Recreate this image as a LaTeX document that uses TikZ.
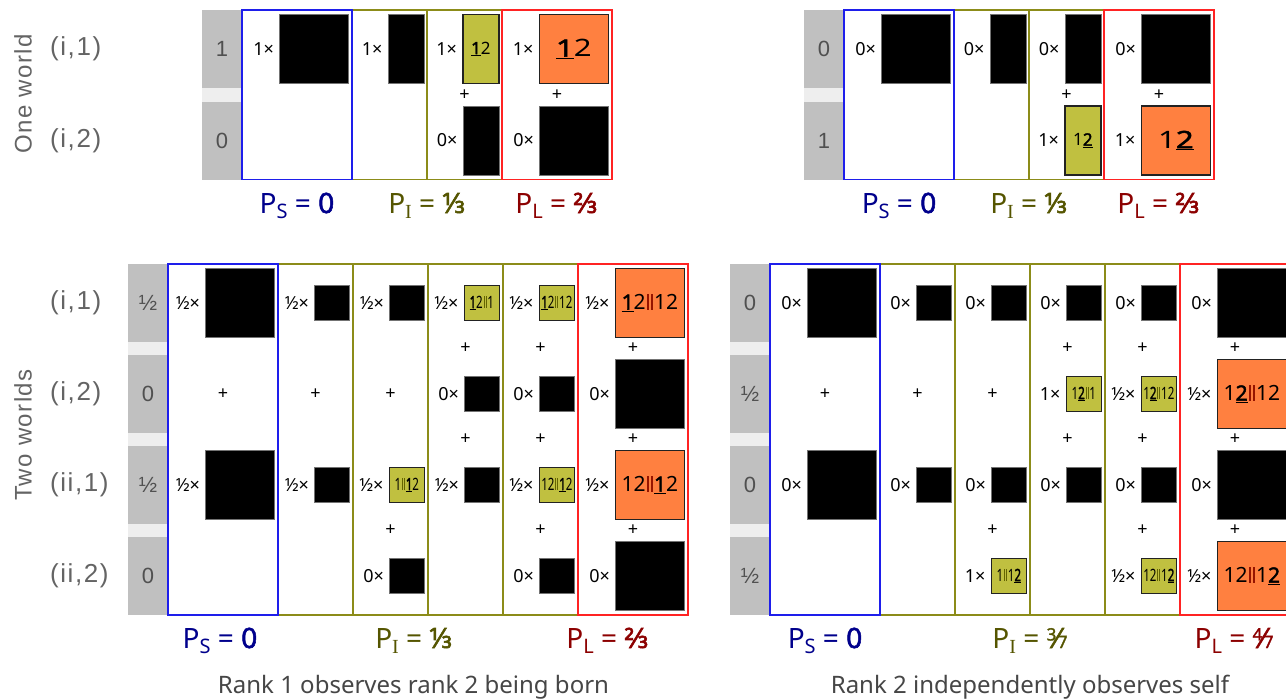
\documentclass[tikz,border=0pt]{standalone}
\usepackage{fontspec}
\usepackage{graphicx}
\newfontfamily\ns{Noto Sans}[AutoFakeBold=2]
\newfontfamily\ls{Liberation Sans}[LetterSpace=6]
\newfontfamily\lsn{Liberation Sans}
\newfontfamily\lsr{Liberation Serif}
\definecolor{gcell}{RGB}{192,192,192}
\definecolor{gstrip}{RGB}{238,238,238}
\definecolor{blfr}{RGB}{30,30,235}
\definecolor{olfr}{RGB}{140,140,25}
\definecolor{rdfr}{RGB}{255,35,35}
\definecolor{olfill}{RGB}{192,192,64}
\definecolor{orfill}{RGB}{255,128,64}
\definecolor{boxedge}{RGB}{34,34,34}
\definecolor{psc}{RGB}{0,0,140}
\definecolor{pIcol}{RGB}{85,85,0}
\definecolor{plc}{RGB}{140,0,0}
\definecolor{lblc}{RGB}{100,100,100}
\definecolor{numc}{RGB}{80,80,80}
\definecolor{capc}{RGB}{70,70,70}
\definecolor{obar}{RGB}{100,100,0}
\definecolor{rbar}{RGB}{150,20,0}
\newcommand\myud[1]{\underline{\textbf{#1}}}
\newcommand\mydbar[1]{\kern.07em{\color{#1}\rule{.09em}{.72em}\kern.08em\rule{.09em}{.72em}}\kern.07em}
\newcommand\myfr[2]{\raisebox{.27em}{\fontsize{17}{17}\selectfont #1}\kern-.04em⁄\kern-.04em{\fontsize{17}{17}\selectfont #2}}
\newcommand\mysub[1]{\raisebox{-.2em}{\fontsize{20}{20}\selectfont #1}}
\newcommand\mysq[1]{\scalebox{0.68}[1]{#1}}
\newcommand\mywide[1]{\scalebox{1.3}[1]{#1}}
\newcommand\myitm[6]{\node[#4] (#1) at (#2,#3) {#6};\node[mult] (#1x) at ([xshift=-5pt]#1.west) {#5};}
\newcommand\mypl[3]{\node[plusmark] (#1) at (#2,#3) {+};}
\tikzset{
 blk/.style={fill=black,draw=black!55,line width=.8pt,inner sep=0pt,anchor=east},
 bigsq/.style={minimum width=69pt,minimum height=69pt},
 narrow/.style={minimum width=36pt,minimum height=69pt},
 smallsq/.style={minimum width=35pt,minimum height=35pt},
 olb/.style={fill=olfill,draw=boxedge,line width=1.3pt,inner sep=0pt,anchor=east},
 orb/.style={fill=orfill,draw=boxedge,line width=1.3pt,inner sep=0pt,anchor=east},
 olnarrow/.style={olb,narrow,font=\ns\fontsize{17}{20}\selectfont},
 olsmall/.style={olb,smallsq,font=\ns\fontsize{17}{20}\selectfont},
 ortop/.style={orb,bigsq,font=\ns\fontsize{24}{28}\selectfont},
 orbot/.style={orb,bigsq,font=\ns\fontsize{21}{24}\selectfont},
 mult/.style={font=\ns\fontsize{18}{21}\selectfont,inner sep=0pt,anchor=east},
 plusmark/.style={font=\ns\fontsize{18}{21}\selectfont,inner sep=0pt},
 gnum/.style={font=\lsn\fontsize{22}{26}\selectfont,text=numc,inner sep=0pt},
 rlab/.style={font=\ls\fontsize{26}{30}\selectfont,text=lblc,inner sep=0pt,anchor=west},
 wlab/.style={font=\ls\fontsize{24}{28}\selectfont,text=lblc,inner sep=0pt,rotate=90},
 plab/.style={font=\ns\fontsize{28}{32}\selectfont,inner sep=0pt,anchor=base},
 captxt/.style={font=\ns\fontsize{24}{28}\selectfont,text=capc,inner sep=0pt,anchor=base},
 olfrs/.style={draw=olfr,line width=1.6pt},
 blfrs/.style={draw=blfr,line width=1.6pt},
 rdfrs/.style={draw=rdfr,line width=1.6pt},
}
\begin{document}
\begin{tikzpicture}[x=1pt,y=-1pt]
\clip (0,0) rectangle (1286,699);
\fill[white] (0,0) rectangle (1286,699);
% ---------- left labels
\node[wlab] (w1) at (23,94) {One world};
\node[wlab] (w2) at (23,435) {Two worlds};
\node[rlab] (t11) at (50,49) {(i,1)};
\node[rlab] (t12) at (50,140.5) {(i,2)};
\node[rlab] (b11) at (50,303) {(i,1)};
\node[rlab] (b12) at (50,394) {(i,2)};
\node[rlab] (b21) at (50,485) {(ii,1)};
\node[rlab] (b22) at (50,576) {(ii,2)};
% ---------- gray columns
\foreach \gx in {202,804}{
 \fill[gcell] (\gx,10) rectangle (\gx+40,88);
 \fill[gstrip] (\gx,88) rectangle (\gx+40,101.5);
 \fill[gcell] (\gx,101.5) rectangle (\gx+40,179.5);}
\foreach \gx in {128,730}{
 \fill[gcell] (\gx,264) rectangle (\gx+40,342);
 \fill[gstrip] (\gx,342) rectangle (\gx+40,355);
 \fill[gcell] (\gx,355) rectangle (\gx+40,433);
 \fill[gstrip] (\gx,433) rectangle (\gx+40,446);
 \fill[gcell] (\gx,446) rectangle (\gx+40,524);
 \fill[gstrip] (\gx,524) rectangle (\gx+40,537);
 \fill[gcell] (\gx,537) rectangle (\gx+40,615);}
\node[gnum] (tlg1) at (222,49) {1};
\node[gnum] (tlg2) at (222,140.5) {0};
\node[gnum] (trg1) at (824,49) {0};
\node[gnum] (trg2) at (824,140.5) {1};
\node[gnum] (blg1) at (148,303) {½};
\node[gnum] (blg2) at (148,394) {0};
\node[gnum] (blg3) at (148,485) {½};
\node[gnum] (blg4) at (148,576) {0};
\node[gnum] (brg1) at (750,303) {0};
\node[gnum] (brg2) at (750,394) {½};
\node[gnum] (brg3) at (750,485) {0};
\node[gnum] (brg4) at (750,576) {½};
% ---------- frames
\draw[olfrs] (352,10) rectangle (427,179.5) (427,10) rectangle (502,179.5);
\draw[blfrs] (242,10) rectangle (352,179.5);
\draw[rdfrs] (502,10) rectangle (612,179.5);
\draw[olfrs] (954,10) rectangle (1029,179.5) (1029,10) rectangle (1104,179.5);
\draw[blfrs] (844,10) rectangle (954,179.5);
\draw[rdfrs] (1104,10) rectangle (1214,179.5);
\draw[olfrs] (278,264) rectangle (353,615) (353,264) rectangle (428,615) (428,264) rectangle (503,615) (503,264) rectangle (578,615);
\draw[blfrs] (168,264) rectangle (278,615);
\draw[rdfrs] (578,264) rectangle (688,615);
\draw[olfrs] (880,264) rectangle (955,615) (955,264) rectangle (1030,615) (1030,264) rectangle (1105,615) (1105,264) rectangle (1180,615);
\draw[blfrs] (770,264) rectangle (880,615);
\draw[rdfrs] (1180,264) rectangle (1290,615);
% ---------- top left
\myitm{tlB1}{349}{49}{blk,bigsq}{1×}{}
\myitm{tlI1}{424.5}{49}{blk,narrow}{1×}{}
\myitm{tlJ1}{499.5}{49}{olnarrow}{1×}{\myud{1}2}
\mypl{tlJp}{464.5}{95}
\myitm{tlJ2}{499.5}{140.5}{blk,narrow}{0×}{}
\myitm{tlL1}{609}{49}{ortop}{1×}{\mywide{\myud{1}2}}
\mypl{tlLp}{557}{95}
\myitm{tlL2}{609}{140.5}{blk,bigsq}{0×}{}
% ---------- top right
\myitm{trB1}{951}{49}{blk,bigsq}{0×}{}
\myitm{trI1}{1026.5}{49}{blk,narrow}{0×}{}
\myitm{trJ1}{1101.5}{49}{blk,narrow}{0×}{}
\mypl{trJp}{1066.5}{95}
\myitm{trJ2}{1101.5}{140.5}{olnarrow}{1×}{1\myud{2}}
\myitm{trL1}{1211}{49}{blk,bigsq}{0×}{}
\mypl{trLp}{1159}{95}
\myitm{trL2}{1211}{140.5}{ortop}{1×}{\mywide{1\myud{2}}}
% ---------- bottom left
\myitm{blB1}{275}{303}{blk,bigsq}{½×}{}
\mypl{blBp}{223}{394}
\myitm{blB3}{275}{485}{blk,bigsq}{½×}{}
\myitm{blA1}{350}{303}{blk,smallsq}{½×}{}
\mypl{blAp}{315.5}{394}
\myitm{blA3}{350}{485}{blk,smallsq}{½×}{}
\myitm{blC1}{425}{303}{blk,smallsq}{½×}{}
\mypl{blCp}{390.5}{394}
\myitm{blC3}{425}{485}{olsmall}{½×}{\mysq{1\mydbar{obar}\myud{1}2}}
\mypl{blCq}{390.5}{530.5}
\myitm{blC4}{425}{576}{blk,smallsq}{0×}{}
\myitm{blD1}{500}{303}{olsmall}{½×}{\mysq{\myud{1}2\mydbar{obar}1}}
\mypl{blDp}{465.5}{348.5}
\myitm{blD2}{500}{394}{blk,smallsq}{0×}{}
\mypl{blDq}{465.5}{439.5}
\myitm{blD3}{500}{485}{blk,smallsq}{½×}{}
\myitm{blE1}{575}{303}{olsmall}{½×}{\mysq{\myud{1}2\mydbar{obar}12}}
\mypl{blEp}{540.5}{348.5}
\myitm{blE2}{575}{394}{blk,smallsq}{0×}{}
\mypl{blEq}{540.5}{439.5}
\myitm{blE3}{575}{485}{olsmall}{½×}{\mysq{12\mydbar{obar}\myud{1}2}}
\mypl{blEr}{540.5}{530.5}
\myitm{blE4}{575}{576}{blk,smallsq}{0×}{}
\myitm{blR1}{685}{303}{orbot}{½×}{\myud{1}2\mydbar{rbar}12}
\mypl{blRp}{633}{348.5}
\myitm{blR2}{685}{394}{blk,bigsq}{0×}{}
\mypl{blRq}{633}{439.5}
\myitm{blR3}{685}{485}{orbot}{½×}{12\mydbar{rbar}\myud{1}2}
\mypl{blRr}{633}{530.5}
\myitm{blR4}{685}{576}{blk,bigsq}{0×}{}
% ---------- bottom right
\myitm{brB1}{877}{303}{blk,bigsq}{0×}{}
\mypl{brBp}{825}{394}
\myitm{brB3}{877}{485}{blk,bigsq}{0×}{}
\myitm{brA1}{952}{303}{blk,smallsq}{0×}{}
\mypl{brAp}{917.5}{394}
\myitm{brA3}{952}{485}{blk,smallsq}{0×}{}
\myitm{brC1}{1027}{303}{blk,smallsq}{0×}{}
\mypl{brCp}{992.5}{394}
\myitm{brC3}{1027}{485}{blk,smallsq}{0×}{}
\mypl{brCq}{992.5}{530.5}
\myitm{brC4}{1027}{576}{olsmall}{1×}{\mysq{1\mydbar{obar}1\myud{2}}}
\myitm{brD1}{1102}{303}{blk,smallsq}{0×}{}
\mypl{brDp}{1067.5}{348.5}
\myitm{brD2}{1102}{394}{olsmall}{1×}{\mysq{1\myud{2}\mydbar{obar}1}}
\mypl{brDq}{1067.5}{439.5}
\myitm{brD3}{1102}{485}{blk,smallsq}{0×}{}
\myitm{brE1}{1177}{303}{blk,smallsq}{0×}{}
\mypl{brEp}{1142.5}{348.5}
\myitm{brE2}{1177}{394}{olsmall}{½×}{\mysq{1\myud{2}\mydbar{obar}12}}
\mypl{brEq}{1142.5}{439.5}
\myitm{brE3}{1177}{485}{blk,smallsq}{0×}{}
\mypl{brEr}{1142.5}{530.5}
\myitm{brE4}{1177}{576}{olsmall}{½×}{\mysq{12\mydbar{obar}1\myud{2}}}
\myitm{brR1}{1287}{303}{blk,bigsq}{0×}{}
\mypl{brRp}{1235}{348.5}
\myitm{brR2}{1287}{394}{orbot}{½×}{1\myud{2}\mydbar{rbar}12}
\mypl{brRq}{1235}{439.5}
\myitm{brR3}{1287}{485}{blk,bigsq}{0×}{}
\mypl{brRr}{1235}{530.5}
\myitm{brR4}{1287}{576}{orbot}{½×}{12\mydbar{rbar}1\myud{2}}
% ---------- probability labels
\node[plab,text=psc] (tlPS) at (297,213) {P\mysub{S} = \textbf{0}};
\node[plab,text=pIcol] (tlPI) at (427,213) {P\mysub{\lsr I} = \textbf{⅓}};
\node[plab,text=plc] (tlPL) at (557,213) {P\mysub{L} = \textbf{⅔}};
\node[plab,text=psc] (trPS) at (899,213) {P\mysub{S} = \textbf{0}};
\node[plab,text=pIcol] (trPI) at (1029,213) {P\mysub{\lsr I} = \textbf{⅓}};
\node[plab,text=plc] (trPL) at (1159,213) {P\mysub{L} = \textbf{⅔}};
\node[plab,text=psc] (blPS) at (220,648) {P\mysub{S} = \textbf{0}};
\node[plab,text=pIcol] (blPI) at (414,648) {P\mysub{\lsr I} = \textbf{⅓}};
\node[plab,text=plc] (blPL) at (608,648) {P\mysub{L} = \textbf{⅔}};
\node[plab,text=psc] (brPS) at (825,648) {P\mysub{S} = \textbf{0}};
\node[plab,text=pIcol] (brPI) at (1030,648) {P\mysub{\lsr I} = \textbf{\myfr{3}{7}}};
\node[plab,text=plc] (brPL) at (1234,648) {P\mysub{L} = \textbf{\myfr{4}{7}}};
% ---------- captions
\node[captxt] (capL) at (413.5,693) {Rank 1 observes rank 2 being born};
\node[captxt] (capR) at (1030,693) {Rank 2 independently observes self};
\end{tikzpicture}
\end{document}
